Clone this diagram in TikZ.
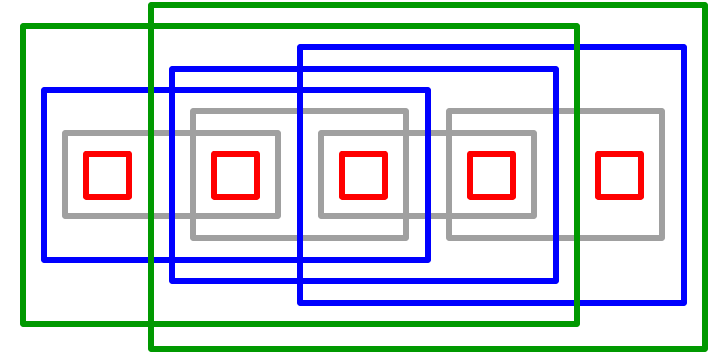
\documentclass[tikz,border=0pt]{standalone}
\definecolor{cred}{RGB}{255,0,0}
\definecolor{cgray}{RGB}{160,160,160}
\definecolor{cblue}{RGB}{0,0,255}
\definecolor{cgreen}{RGB}{0,153,0}
\tikzset{
  boxline/.style={line width=6pt,line join=round},
  redbox/.style={boxline,draw=cred},
  graybox/.style={boxline,draw=cgray},
  bluebox/.style={boxline,draw=cblue},
  greenbox/.style={boxline,draw=cgreen}
}
\begin{document}
\begin{tikzpicture}[x=1pt,y=-1pt]
\useasboundingbox (0,0) rectangle (716,354);
% red squares
\foreach \cx in {107.5,235.5,363.5,491.5,619.5}
  \draw[redbox] (\cx-21.5,153.5) rectangle (\cx+21.5,196.5);
% gray boxes
\draw[graybox] (65,133) rectangle (278,216);
\draw[graybox] (193,111) rectangle (406,238);
\draw[graybox] (321,133) rectangle (534,216);
\draw[graybox] (449,111) rectangle (662,238);
% blue boxes
\draw[bluebox] (44,90) rectangle (428,260);
\draw[bluebox] (172,69) rectangle (556,281);
\draw[bluebox] (300,47) rectangle (684,303);
% green boxes
\draw[greenbox] (23,26) rectangle (577,324);
\draw[greenbox] (151,5) rectangle (705,349);
\end{tikzpicture}
\end{document}
